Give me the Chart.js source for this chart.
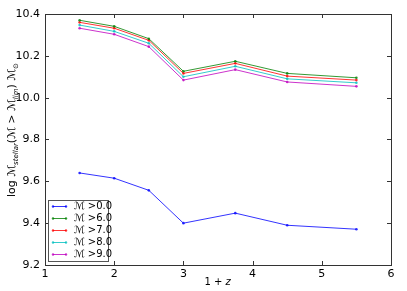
<!DOCTYPE html>
<html>
<head>
<meta charset="utf-8">
<script src="https://cdn.jsdelivr.net/npm/chart.js@4"></script>
<style>
  html, body { margin: 0; padding: 0; background: #fff; }
  #wrap { width: 407px; height: 291px; }
</style>
</head>
<body>
<div id="wrap"><canvas id="cnv" width="407" height="291"></canvas></div>
<script>
// redshift axis (1+z)
const onePlusZ = [1.5, 2.0, 2.5, 3.0, 3.75, 4.5, 5.5];

// log mean stellar mass above each mass cut
const massGt0 = [9.640, 9.615, 9.557, 9.400, 9.448, 9.390, 9.371];
const massGt6 = [10.370, 10.341, 10.282, 10.126, 10.174, 10.116, 10.095];
const massGt7 = [10.360, 10.332, 10.274, 10.116, 10.164, 10.103, 10.084];
const massGt8 = [10.347, 10.317, 10.260, 10.100, 10.150, 10.090, 10.071];
const massGt9 = [10.332, 10.303, 10.244, 10.084, 10.134, 10.075, 10.054];

const seriesLabels = ['\u2133 >0.0', '\u2133 >6.0', '\u2133 >7.0', '\u2133 >8.0', '\u2133 >9.0'];
const seriesColors = ['rgba(0,0,255,0.8)', 'rgba(0,128,0,0.8)', 'rgba(255,0,0,0.8)', 'rgba(0,191,191,0.8)', 'rgba(191,0,191,0.8)'];
const xTicks = [1, 2, 3, 4, 5, 6];
const yTicks = [9.2, 9.4, 9.6, 9.8, 10.0, 10.2, 10.4];

const FONT = 'DejaVu Sans';

function buildDatasets(){
  const all = [massGt0, massGt6, massGt7, massGt8, massGt9];
  return all.map((vals, i) => ({
    label: seriesLabels[i],
    data: vals.map((v, j) => ({x: onePlusZ[j], y: v})),
    borderColor: seriesColors[i],
    backgroundColor: seriesColors[i],
    borderWidth: 1,
    pointRadius: 1.3,
    pointBorderWidth: 0,
    tension: 0
  }));
}

// draws frame, inward ticks on all sides, legend and axis titles
const decorations = {
  id: 'decorations',
  afterDraw(chart){
    const ctx = chart.ctx;
    const a = chart.chartArea;
    const xs = chart.scales.x, ys = chart.scales.y;
    ctx.save();
    ctx.strokeStyle = '#333';
    ctx.lineWidth = 1;
    ctx.strokeRect(a.left + 0.5, a.top + 0.5, a.right - a.left, a.bottom - a.top);
    ctx.beginPath();
    xTicks.forEach(t => {
      const px = Math.round(xs.getPixelForValue(t)) + 0.5;
      ctx.moveTo(px, a.bottom); ctx.lineTo(px, a.bottom - 4);
      ctx.moveTo(px, a.top); ctx.lineTo(px, a.top + 4);
    });
    yTicks.forEach(t => {
      const py = Math.round(ys.getPixelForValue(t)) + 0.5;
      ctx.moveTo(a.left, py); ctx.lineTo(a.left + 4, py);
      ctx.moveTo(a.right, py); ctx.lineTo(a.right - 4, py);
    });
    ctx.stroke();

    // legend
    const lx = 48, ly = 200, lw = 60, lh = 61;
    ctx.fillStyle = '#fff';
    ctx.fillRect(lx, ly, lw, lh);
    ctx.strokeStyle = '#555';
    ctx.strokeRect(lx + 0.5, ly + 0.5, lw, lh);
    ctx.textBaseline = 'middle';
    seriesLabels.forEach((lab, i) => {
      const y = ly + 6.5 + i * 12;
      ctx.strokeStyle = seriesColors[i];
      ctx.fillStyle = seriesColors[i];
      ctx.beginPath(); ctx.moveTo(53, y); ctx.lineTo(66, y); ctx.stroke();
      [53, 66].forEach(px => { ctx.beginPath(); ctx.arc(px, y, 1.2, 0, Math.PI * 2); ctx.fill(); });
      ctx.fillStyle = '#000';
      ctx.font = 'italic 10px ' + FONT;
      ctx.fillText('\u2133', 74, y);
      const w = ctx.measureText('\u2133').width;
      ctx.font = '10px ' + FONT;
      ctx.fillText(lab.slice(1), 74 + w, y);
    });

    // x title
    ctx.fillStyle = '#000';
    ctx.textAlign = 'center';
    ctx.textBaseline = 'alphabetic';
    ctx.font = '10px ' + FONT;
    ctx.fillText('1 + ', (a.left + a.right) / 2 - 3, 285);
    ctx.font = 'italic 10px ' + FONT;
    ctx.fillText('z', (a.left + a.right) / 2 + 10, 285);

    // y title with subscripts
    const parts = [
      ['log ', 11, 0, ''], ['\u2133', 11, 0, 'italic '], ['stellar', 7, 3, 'italic '],
      ['(', 11, 0, ''], ['\u2133', 11, 0, 'italic '], [' > ', 11, 0, ''], ['\u2133', 11, 0, 'italic '],
      ['lim', 7, 3, 'italic '], [') ', 11, 0, ''], ['\u2133', 11, 0, 'italic '], ['\u2299', 7, 3, '']
    ];
    let total = 0;
    parts.forEach(p => { ctx.font = p[3] + p[1] + 'px ' + FONT; p.push(ctx.measureText(p[0]).width); total += p[4]; });
    ctx.translate(15, 130);
    ctx.rotate(-Math.PI / 2);
    ctx.textAlign = 'left';
    let cx = -total / 2;
    parts.forEach(p => {
      ctx.font = p[3] + p[1] + 'px ' + FONT;
      ctx.fillText(p[0], cx, p[2]);
      cx += p[4];
    });
    ctx.restore();
  }
};

function drawChart(){
  const ctx = document.getElementById('cnv').getContext('2d');
  new Chart(ctx, {
    type: 'line',
    data: { datasets: buildDatasets() },
    plugins: [decorations],
    options: {
      responsive: false,
      animation: false,
      layout: { padding: { left: 0, right: 16, top: 14, bottom: 0 } },
      plugins: { legend: { display: false }, tooltip: { enabled: false } },
      scales: {
        x: {
          type: 'linear', min: 1, max: 6,
          afterFit: s => { s.height = 26; },
          afterBuildTicks: s => { s.ticks = xTicks.map(v => ({value: v})); },
          grid: { display: false, drawTicks: false },
          border: { display: false },
          ticks: { color: '#000', padding: 3, font: { family: FONT, size: 11 }, maxRotation: 0 }
        },
        y: {
          type: 'linear', min: 9.2, max: 10.4,
          afterFit: s => { s.width = 45; },
          afterBuildTicks: s => { s.ticks = yTicks.map(v => ({value: v})); },
          grid: { display: false, drawTicks: false },
          border: { display: false },
          ticks: { color: '#000', padding: 5, font: { family: FONT, size: 11 },
                   callback: v => v.toFixed(1) }
        }
      }
    }
  });
}

drawChart();
</script>
</body>
</html>
